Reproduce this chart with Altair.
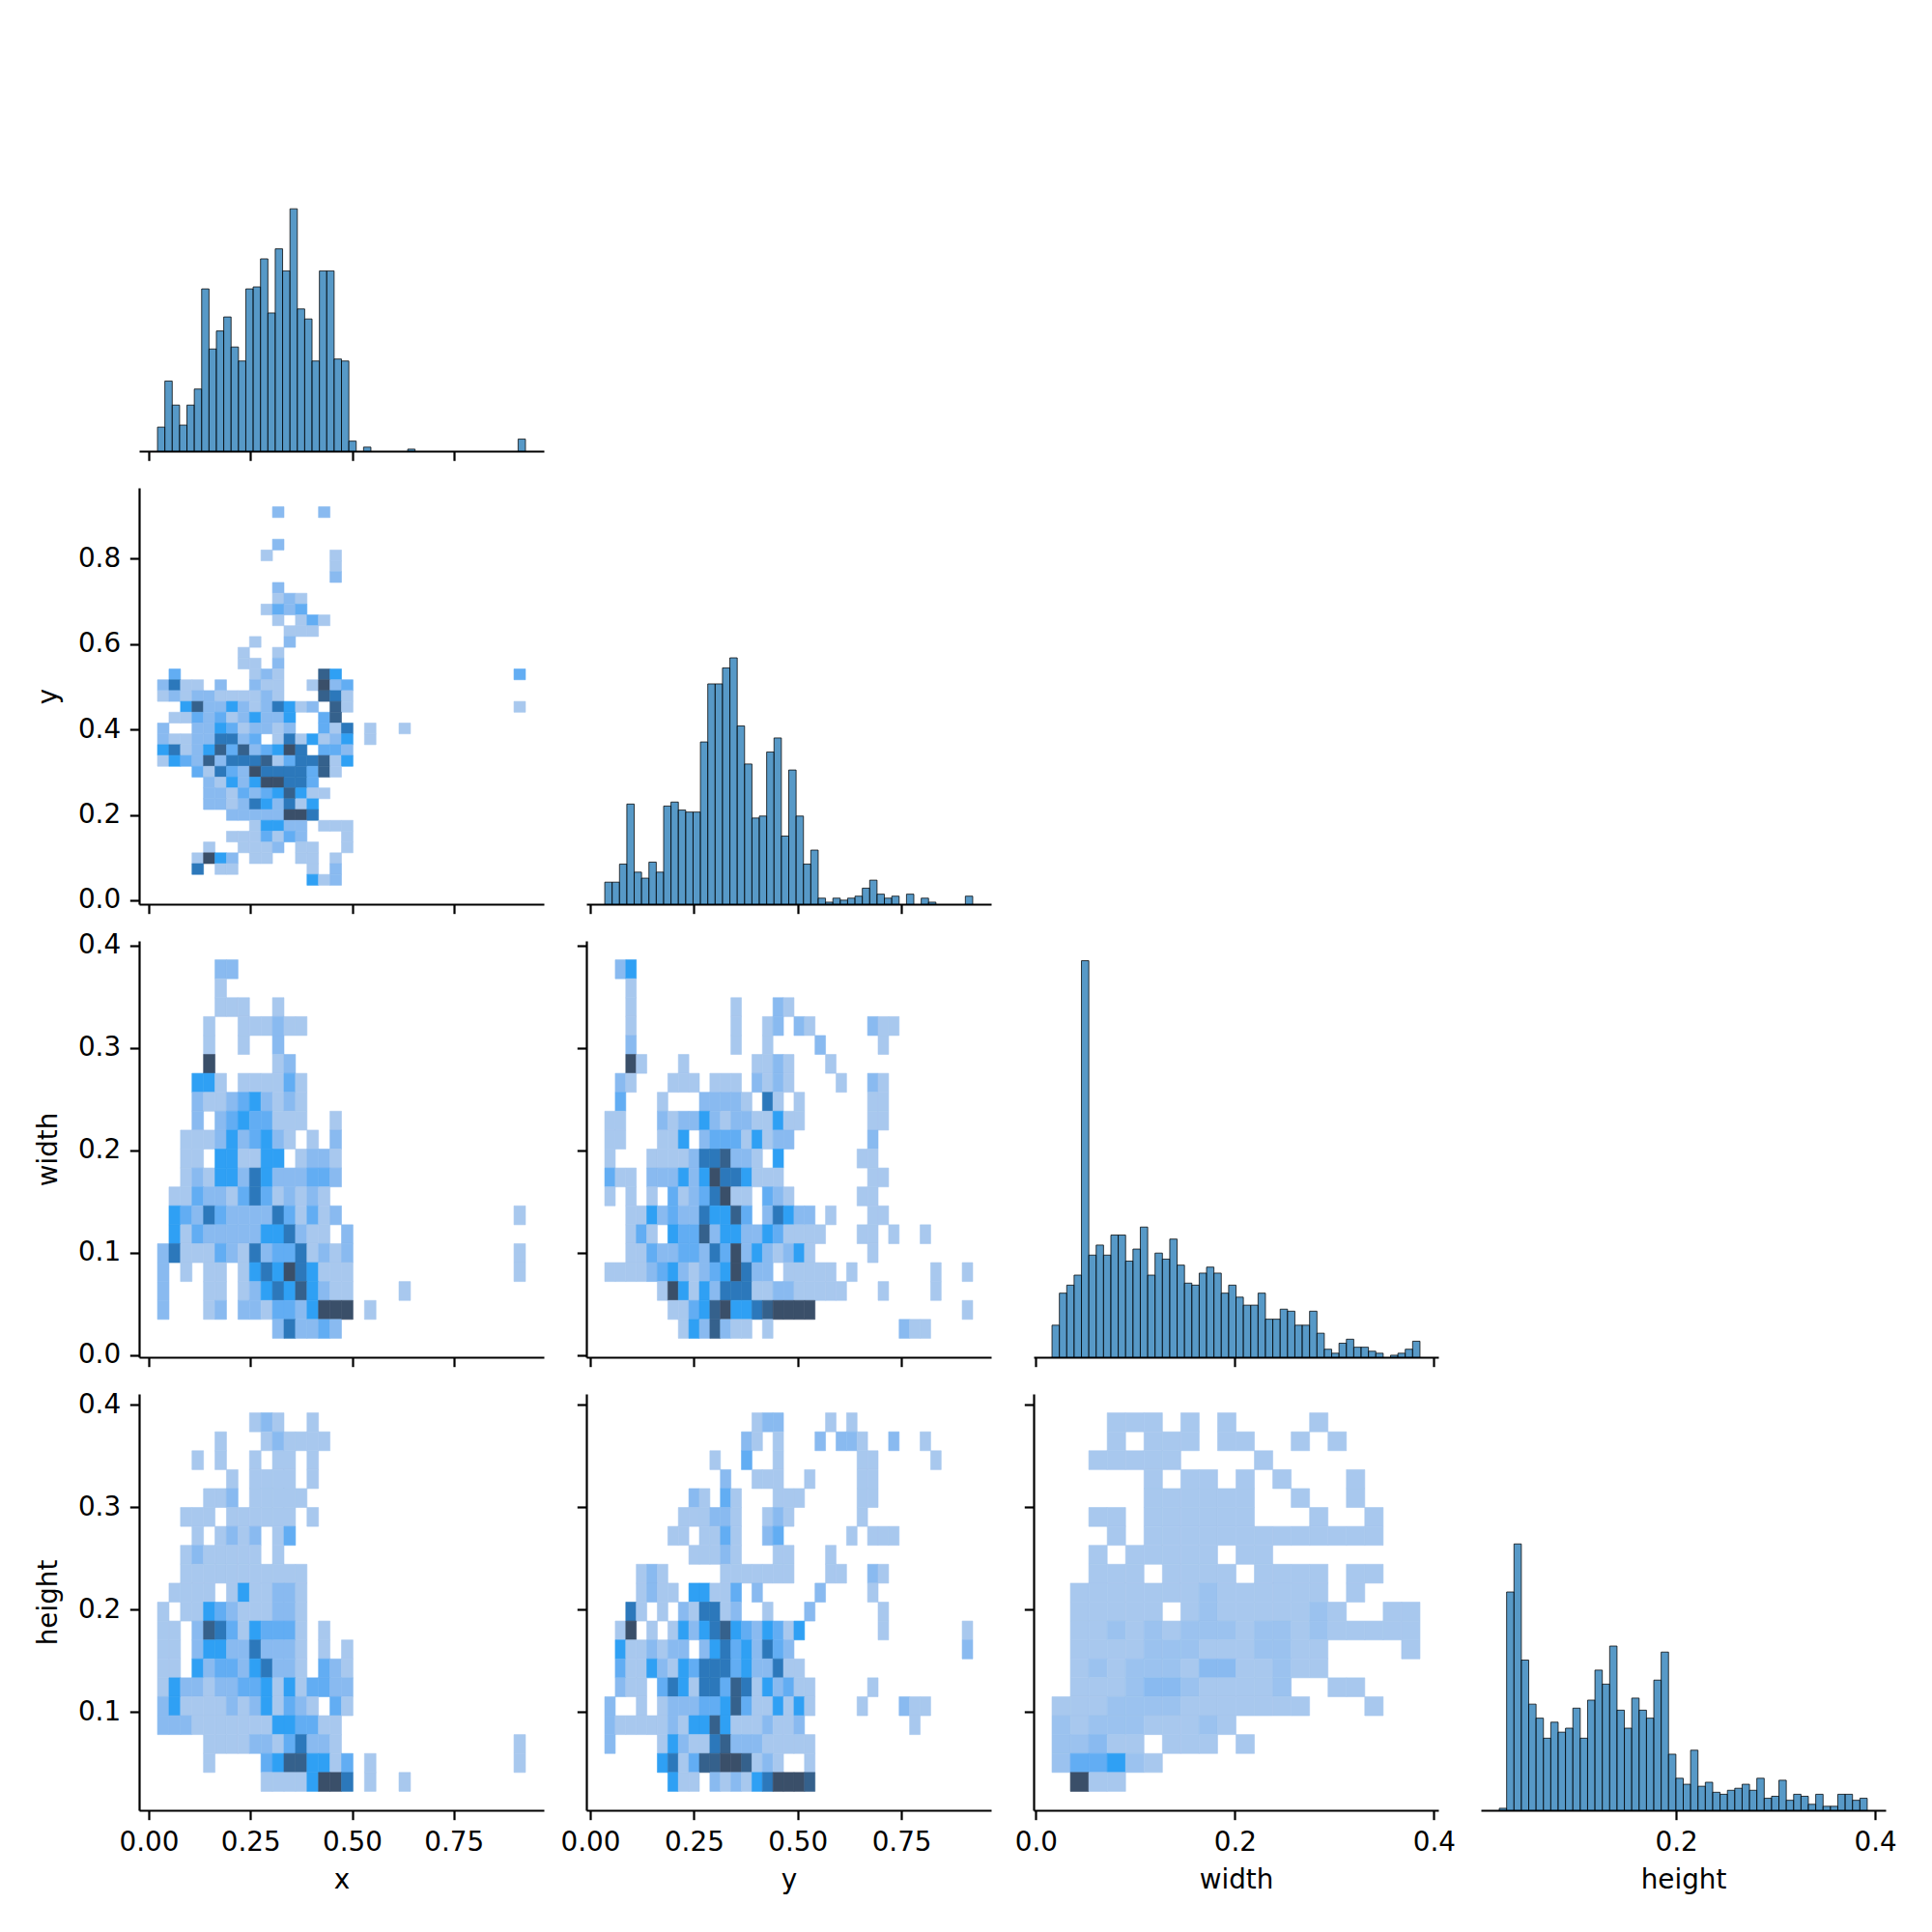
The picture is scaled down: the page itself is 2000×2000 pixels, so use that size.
import altair as alt
import pandas as pd

# ---------------- data ----------------
VARS = ["x", "y", "width", "height"]
DATA_RANGE = {"x": (0.0214, 0.9262), "y": (0.035, 0.922),
              "width": (0.0162, 0.386), "height": (0.0224, 0.392)}
BINS_2D = {"x": 32, "y": 35, "width": 20, "height": 20}

# univariate histogram counts (50 bins each)
x_counts = [12, 35, 23, 13, 23, 31, 81, 51, 60, 67, 52, 45, 81, 82, 96, 69, 101, 90, 121, 71,
            66, 45, 90, 90, 46, 45, 5, 0, 2, 0, 0, 0, 0, 0, 1, 0, 0, 0, 0, 0,
            0, 0, 0, 0, 0, 0, 0, 0, 0, 6]
y_counts = [11, 11, 20, 50, 16, 13, 21, 16, 49, 51, 47, 46, 46, 81, 110, 110, 118, 123, 89, 70,
            43, 44, 76, 83, 34, 67, 44, 20, 27, 3, 1, 3, 2, 3, 4, 8, 12, 5, 3, 4,
            0, 5, 0, 3, 1, 0, 0, 0, 0, 4]
w_counts = [16, 32, 36, 41, 198, 51, 56, 51, 61, 61, 48, 54, 65, 41, 52, 49, 59, 46, 37, 36,
            42, 45, 42, 32, 36, 30, 26, 26, 32, 19, 19, 24, 23, 16, 16, 23, 12, 4, 2, 7,
            9, 5, 5, 3, 2, 0, 1, 2, 4, 8]
h_counts = [1, 109, 133, 75, 53, 46, 36, 44, 39, 41, 51, 36, 55, 70, 63, 82, 50, 41, 56, 50,
            46, 65, 79, 28, 16, 13, 30, 12, 14, 9, 8, 10, 11, 13, 10, 16, 6, 7, 15, 5,
            8, 7, 3, 8, 2, 2, 8, 8, 5, 6]

# bivariate histogram cell intensity levels, top row (highest bin) first, '.' = empty
grid_y_x = [
    "..........2...2", "", "", "..........2", ".........1.....1",
    "...............1", "...............2", "..........2", "..........121", ".........1323",
    "..........1.131", "...........111", "........1..2", ".......1..1", ".......11.2",
    ".3......121...64" + "." * 15 + "3",
    "2511.2..211..1723", "12122111121...651",
    "..462242125412.61" + "." * 14 + "1",
    ".11323124224..36", "2..224312212..315.1..1", "211225523.1514124.1",
    "4512463623475.332", "14326255561355614", "...3153275555361", "....2142477553",
    "....22132346411", "....2212542514", "......22222775", "........14422.111",
    "......1113132...1", "....1..1112.11..1", "...1742.11..11.1", "...5.11......1.2",
    ".............412",
]
grid_w_x = [
    ".....22", ".....1", ".....111..1", "....1..111211", "....1..1..2",
    "....7.....12", "...441.111131", "...2112342121", "...2.23433111..1", "..1112423421.1.2",
    "..11.441144.1221", "..12144254222332", ".11322135312121",
    ".432532222531312" + "." * 15 + "1",
    ".41322222445211.2",
    "25111321523351212" + "." * 14 + "1",
    "2.1.11.1454754111" + "." * 14 + "1",
    "2...11.1245464211....1", "2...12.2213324777.1", ".........." + "252232",
]
grid_h_x = [
    "........121..1", ".....1...121111", "...1.1..1.11.1", "......1.1111.1", "....112.11111",
    "..111.111111.1", "...1.1212.13", "..1211111.1", "..11111111111", ".1111.1411221",
    "1.11432111221", "11.2653143331.1", "11.2442252221.1.1", "11.4233245221.321",
    "14221223341413322", "24111121241321.31", "2221111111443311",
    "....111122135221" + "." * 15 + "1",
    "....1....34664413.1" + "." * 12 + "1",
    ".........11114775.1..1",
]
grid_w_y = [
    ".24", "..1", "..1.........1...21",
    "..1" + "." * 9 + "1..12.21" + "." * 5 + "211",
    "..2" + "." * 9 + "1..1....2.....1",
    "..71...1......1121...1",
    ".21...111.111.2121....1..21",
    ".3...1...22221.51.1......11",
    "11...21224212211411......11",
    "11...114.233314122.......2",
    "1...11112556221.4.......11",
    "311.2224247554111........11",
    "1.1.1.31235711.321......11",
    "..114232254463.25422.1...11",
    "..131.433624422431111...11.1..1",
    "..113223325372421241.....1",
    "1111234212347522.11111.1.......1..1",
    ".....174142555112211111...1....1",
    "......11346744567777" + "." * 14 + "1",
    ".......1426211.1............211",
]
grid_h_y = [
    "." * 14 + "122....1.1",
    "." * 13 + "21.1...2.221..2..1",
    "." * 10 + "1..3..1.......11.....1",
    "." * 11 + "2..111..1....11",
    "." * 8 + "21.31...111.....11",
    "." * 7 + "111221..121......1",
    "." * 6 + "11.1131..23......1.111",
    "." * 8 + "11121...11...1",
    "...121.....1111111...11..21",
    "...1211.44113.2.....2....1",
    "..51.1.215512..1...2......1",
    ".17.1.1424564324314.......1.......1",
    ".4112122.245342532" + "." * 16 + "2",
    ".311421435553422511",
    ".211.354155365142311.....1",
    "2..1.122233463114141....1...211",
    "2111112144641112112" + "." * 10 + "1",
    "2....142115622211111",
    ".....451366776121..1",
    "......411.2121457776",
]
grid_h_w = [
    "...111.1.1....1", "...1.111.11..1.1", "..11111....1", ".....1.11.1.1...1",
    ".....111111..1..1", "..11.111111...1..1", "...1.1111111111111", "..1.11111.11",
    "..111.1111.1111.11", ".11111112111111.1", ".11111.121111121..11",
    ".1121212221221211111", ".11112221112211....1", ".12122213311211",
    ".111233211112..11", "11122221111111...1", "2122211121", "22311.111.1",
    "244521", ".911",
]

LEVEL_MAP_A = {1: 1, 2: 3, 3: 4, 4: 5, 5: 7, 6: 8, 7: 9}
LEVEL_MAP_F = {i: i for i in range(1, 10)}
PALETTE = ["#a8c8ee", "#9bc2ef", "#89baf0", "#62adf3", "#2fa0f4",
           "#2a8dd8", "#2c78bb", "#35618c", "#3a4f69"]

BOTTOM_TICKS = {"x": [0, 0.25, 0.5, 0.75], "y": [0, 0.25, 0.5, 0.75],
                "width": [0.0, 0.2, 0.4], "height": [0.2, 0.4]}
BOTTOM_FMT = {"x": ".2f", "y": ".2f", "width": ".1f", "height": ".1f"}
LEFT_TICKS = {"y": [0.0, 0.2, 0.4, 0.6, 0.8], "width": [0.0, 0.1, 0.2, 0.3, 0.4],
              "height": [0.1, 0.2, 0.3, 0.4]}

PW, PH = 419, 431
YMAX = max(max(x_counts), max(y_counts), max(w_counts), max(h_counts)) * 1.05
HIST_FILL = "#1f77b4"


def domain(v):
    lo, hi = DATA_RANGE[v]
    m = 0.05 * (hi - lo)
    return [lo - m, hi + m]


def x_enc(field, v, last_row):
    if last_row:
        ax = alt.Axis(values=BOTTOM_TICKS[v], format=BOTTOM_FMT[v], labels=True, title=v)
    else:
        ax = alt.Axis(values=BOTTOM_TICKS[v], format=BOTTOM_FMT[v], labels=False, title=None)
    return alt.X(f"{field}:Q", scale=alt.Scale(domain=domain(v), nice=False, zero=False), axis=ax)


def y_enc(field, v, first_col):
    if first_col:
        ax = alt.Axis(values=LEFT_TICKS[v], format=".1f", labels=True, title=v)
    else:
        ax = alt.Axis(values=LEFT_TICKS[v], format=".1f", labels=False, title=None)
    return alt.Y(f"{field}:Q", scale=alt.Scale(domain=domain(v), nice=False, zero=False), axis=ax)


def diag_panel(v, counts, last_row):
    lo, hi = DATA_RANGE[v]
    n = len(counts)
    w = (hi - lo) / n
    df = pd.DataFrame([{"start": lo + i * w, "end": lo + (i + 1) * w, "count": c}
                       for i, c in enumerate(counts) if c > 0])
    return alt.Chart(df).mark_rect(
        fill=HIST_FILL, fillOpacity=0.75, stroke="#000000", strokeOpacity=0.75, strokeWidth=1
    ).encode(
        x=x_enc("start", v, last_row), x2="end",
        y=alt.Y("count:Q", scale=alt.Scale(domain=[0, YMAX], nice=False), axis=None),
        y2=alt.datum(0),
    ).properties(width=PW, height=PH)


def grid_panel(vx, vy, rows, levelmap, last_row, first_col):
    nx, ny = BINS_2D[vx], BINS_2D[vy]
    xlo, xhi = DATA_RANGE[vx]
    ylo, yhi = DATA_RANGE[vy]
    dx = (xhi - xlo) / nx
    dy = (yhi - ylo) / ny
    recs = []
    for r, s in enumerate(rows):
        j = ny - 1 - r
        for i, ch in enumerate(s[:nx]):
            if ch == ".":
                continue
            recs.append({"x0": xlo + i * dx, "x1": xlo + (i + 1) * dx,
                         "y0": ylo + j * dy, "y1": ylo + (j + 1) * dy,
                         "level": levelmap[int(ch)]})
    df = pd.DataFrame(recs)
    cscale = alt.Scale(domain=list(range(1, 10)), range=PALETTE)
    return alt.Chart(df).mark_rect(strokeWidth=0.6).encode(
        x=x_enc("x0", vx, last_row), x2="x1",
        y=y_enc("y0", vy, first_col), y2="y1",
        color=alt.Color("level:O", scale=cscale, legend=None),
        stroke=alt.Stroke("level:O", scale=cscale, legend=None),
    ).properties(width=PW, height=PH)


def blank():
    return alt.Chart(pd.DataFrame({"a": [0]})).mark_point(opacity=0).encode(
        x=alt.value(0), y=alt.value(0)
    ).properties(width=PW, height=PH)


panels = [
    diag_panel("x", x_counts, False), blank(), blank(), blank(),
    grid_panel("x", "y", grid_y_x, LEVEL_MAP_A, False, True),
    diag_panel("y", y_counts, False), blank(), blank(),
    grid_panel("x", "width", grid_w_x, LEVEL_MAP_A, False, True),
    grid_panel("y", "width", grid_w_y, LEVEL_MAP_A, False, False),
    diag_panel("width", w_counts, False), blank(),
    grid_panel("x", "height", grid_h_x, LEVEL_MAP_A, True, True),
    grid_panel("y", "height", grid_h_y, LEVEL_MAP_A, True, False),
    grid_panel("width", "height", grid_h_w, LEVEL_MAP_F, True, False),
    diag_panel("height", h_counts, True),
]

chart = alt.concat(
    *panels, columns=4, spacing={"row": 38, "column": 44}, bounds="flush"
).resolve_scale(
    x="independent", y="independent"
).properties(
    padding={"left": 28, "top": 25, "right": 10, "bottom": 10}
).configure_view(
    stroke=None
).configure_axis(
    grid=False,
    domainColor="#000000", domainWidth=2.2,
    tickColor="#000000", tickWidth=2.2, tickSize=9.7,
    labelFont="DejaVu Sans", labelFontSize=27.8, labelColor="#000000",
    labelPadding=9.7, labelFlush=False, labelOverlap=False,
    titleFont="DejaVu Sans", titleFontSize=27.8, titleFontWeight="normal",
    titleColor="#000000", titlePadding=11,
).configure_axisY(
    titlePadding=16,
)

chart.save("out.html", embed_options={"renderer": "svg", "actions": False})
